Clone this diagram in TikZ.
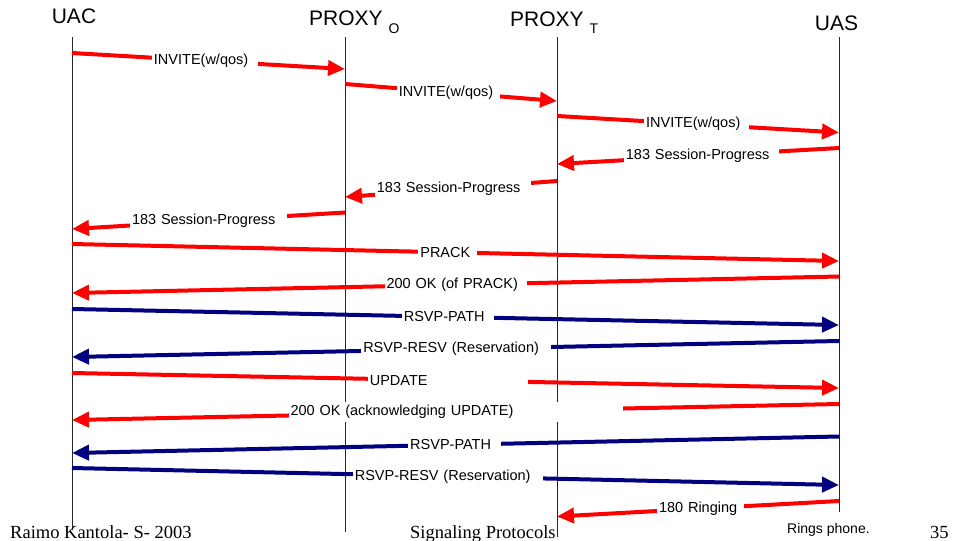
\documentclass[tikz,border=0pt]{standalone}
\usepackage{fontspec}
\setmainfont{Liberation Serif}
\newfontfamily\arialfont{Liberation Sans}
\usetikzlibrary{arrows.meta}
\definecolor{sipred}{HTML}{FF0000}
\definecolor{rsvpblue}{HTML}{000080}
\begin{document}
\begin{tikzpicture}[x=1pt,y=-1pt,
  life/.style={line width=1pt, draw=black!85},
  msg/.style={line width=4pt, -{Triangle[length=17pt,width=15pt]}},
  sipmsg/.style={msg, draw=sipred},
  rsvpmsg/.style={msg, draw=rsvpblue},
  lbl/.style={fill=white, inner xsep=2pt, inner ysep=3.2pt, align=left,
    font=\arialfont\fontsize{14.5}{16}\selectfont, text=black},
  head/.style={font=\arialfont\fontsize{21}{24}\selectfont, inner sep=0pt},
  foot/.style={font=\fontsize{18.5}{20}\selectfont, inner sep=0pt}
]
\useasboundingbox[fill=white] (0,0) rectangle (954,541);

% header labels
\node[head, anchor=base] (huac) at (74,23) {UAC};
\node[head, anchor=base west] (hpo) at (309,25)
  {PROXY {\fontsize{14}{16}\selectfont\raisebox{-8pt}{O}}};
\node[head, anchor=base west] (hpt) at (510,26)
  {PROXY {\fontsize{14}{16}\selectfont\raisebox{-7pt}{T}}};
\node[head, anchor=base] (huas) at (836.5,30) {UAS};

% lifelines
\coordinate (uacTop) at (72,37);  \coordinate (uacBot) at (72,530);
\coordinate (poTop) at (345,37);  \coordinate (poBot) at (345,532);
\coordinate (ptTop) at (557,37);  \coordinate (ptBot) at (557,537);
\coordinate (uasTop) at (839,37); \coordinate (uasBot) at (839,512);
\draw[life] (uacTop) -- (uacBot);
\draw[life] (poTop) -- (poBot);
\draw[life] (ptTop) -- (ptBot);
\draw[life] (uasTop) -- (uasBot);

% message end points
\coordinate (m1a) at (72,53);    \coordinate (m1b) at (345,69);
\coordinate (m2a) at (345,84);   \coordinate (m2b) at (557,101);
\coordinate (m3a) at (557,116);  \coordinate (m3b) at (839,132.5);
\coordinate (m4a) at (839,148);  \coordinate (m4b) at (557,164);
\coordinate (m5a) at (557,181);  \coordinate (m5b) at (345,197);
\coordinate (m6a) at (345,212.5);\coordinate (m6b) at (72,229);
\coordinate (m7a) at (72,244);   \coordinate (m7b) at (839,261);
\coordinate (m8a) at (839,276.5);\coordinate (m8b) at (72,293);
\coordinate (m9a) at (72,309);   \coordinate (m9b) at (839,325);
\coordinate (m10a) at (839,341); \coordinate (m10b) at (72,357);
\coordinate (m11a) at (72,373);  \coordinate (m11b) at (839,388);
\coordinate (m12a) at (839,404); \coordinate (m12b) at (72,420);
\coordinate (m13a) at (839,436.5);\coordinate (m13b) at (72,453);
\coordinate (m14a) at (72,468);  \coordinate (m14b) at (839,485);
\coordinate (m15a) at (839,501); \coordinate (m15b) at (557,516.5);

% SIP and RSVP messages
\draw[sipmsg] (m1a) -- node[lbl, text width=102pt, pos=0.487] (l1) {INVITE(w/qos)} (m1b);
\draw[sipmsg] (m2a) -- node[lbl, text width=99pt, pos=0.488] (l2) {INVITE(w/qos)} (m2b);
\draw[sipmsg] (m3a) -- node[lbl, text width=101pt, pos=0.495] (l3) {INVITE(w/qos)} (m3b);
\draw[sipmsg] (m4a) -- node[lbl, text width=151pt, pos=0.488] (l4) {183 Session-Progress} (m4b);
\draw[sipmsg] (m5a) -- node[lbl, text width=152pt, pos=0.491] (l5) {183 Session-Progress} (m5b);
\draw[sipmsg] (m6a) -- node[lbl, text width=153pt, pos=0.5] (l6) {183 Session-Progress} (m6b);
\draw[sipmsg] (m7a) -- node[lbl, text width=55pt, pos=0.49] (l7) {PRACK} (m7b);
\draw[sipmsg] (m8a) -- node[lbl, text width=138pt, pos=0.5] (l8) {200 OK (of PRACK)} (m8b);
\draw[rsvpmsg] (m9a) -- node[lbl, text width=88pt, pos=0.49] (l9) {RSVP-PATH} (m9b);
\draw[rsvpmsg] (m10a) -- node[lbl, text width=186pt, pos=0.499] (l10) {RSVP-RESV (Reservation)} (m10b);
\draw[sipmsg] (m11a) -- node[lbl, text width=156pt, pos=0.49] (l11) {UPDATE} (m11b);
\draw[sipmsg] (m12a) -- node[lbl, text width=330pt, pos=0.5] (l12) {200 OK (acknowledging UPDATE)} (m12b);
\draw[rsvpmsg] (m13a) -- node[lbl, text width=89pt, pos=0.501] (l13) {RSVP-PATH} (m13b);
\draw[rsvpmsg] (m14a) -- node[lbl, text width=186pt, pos=0.49] (l14) {RSVP-RESV (Reservation)} (m14b);
\draw[sipmsg] (m15a) -- node[lbl, text width=83pt, pos=0.491] (l15) {180 Ringing} (m15b);

% footer
\node[foot, anchor=base west] (fauthor) at (10,538) {Raimo Kantola- S- 2003};
\node[foot, anchor=base west] (ftitle) at (410,538) {Signaling Protocols};
\node[foot, anchor=base west] (fpage) at (930,538) {35};
\node[font=\arialfont\fontsize{14}{16}\selectfont, inner sep=0pt, anchor=base west] (note) at (787,533) {Rings phone.};
\end{tikzpicture}
\end{document}
